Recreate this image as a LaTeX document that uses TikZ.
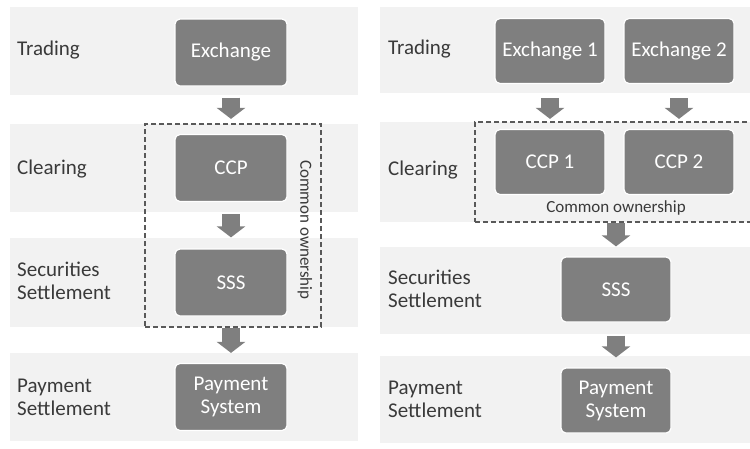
\documentclass[tikz,border=0pt]{standalone}
\usepackage{fontspec}
\setmainfont{Carlito}
\usetikzlibrary{arrows.meta}
\definecolor{bandgray}{HTML}{F2F2F2}
\definecolor{boxgray}{HTML}{7F7F7F}
\definecolor{labelgray}{HTML}{3A3A3A}
\definecolor{dashgray}{HTML}{595959}
\begin{document}
\begin{tikzpicture}[x=1pt, y=-1pt,
    entity/.style={rectangle, rounded corners=5pt, fill=boxgray, draw=white, line width=1.2pt,
        text=white, font=\fontsize{21}{23}\selectfont, align=center, inner sep=0pt},
    lbl/.style={anchor=west, text=labelgray, font=\fontsize{21}{23}\selectfont, align=left, inner sep=0pt},
    flow/.style={draw=boxgray, line width=18pt, -{Triangle[width=28pt,length=11pt]}},
    owner/.style={draw=dashgray, line width=1.6pt, dash pattern=on 5pt off 3pt, inner sep=0pt},
    ownertext/.style={text=labelgray, font=\fontsize{17}{18}\selectfont, inner sep=0pt}
    ]
    \useasboundingbox (0,0) rectangle (750,448);
    \def\lw{112}
    \def\lh{67}
    \def\rw{110}
    \def\rh{65}
    % bands
    \foreach \top/\bot in {7/95, 124/212, 238/327, 353/441}
        \fill[bandgray] (10,\top) rectangle (358,\bot);
    \foreach \top/\bot in {7/93, 122/222, 247/334, 356/443}
        \fill[bandgray] (380,\top) rectangle (750,\bot);
    % row labels
    \node[lbl] (trdL) at (17,50) {Trading};
    \node[lbl] (clrL) at (17,169) {Clearing};
    \node[lbl] (secL) at (17,281) {Securities\\Settlement};
    \node[lbl] (payL) at (17,397) {Payment\\Settlement};
    \node[lbl] (trdR) at (388,49) {Trading};
    \node[lbl] (clrR) at (388,170) {Clearing};
    \node[lbl] (secR) at (388,289) {Securities\\Settlement};
    \node[lbl] (payRl) at (388,399) {Payment\\Settlement};
    % common ownership
    \node[owner, minimum width=176, minimum height=203] (ownL) at (233,225.5) {};
    \node[ownertext, rotate=-90] (ownLt) at (305,230) {Common ownership};
    \node[owner, minimum width=290, minimum height=100] (ownR) at (620,172) {};
    \node[ownertext] (ownRt) at (616,208) {Common ownership};
    % left
    \node[entity, minimum width=\lw, minimum height=\lh] (exch) at (231,52.5) {Exchange};
    \node[entity, minimum width=\lw, minimum height=\lh] (ccp) at (231,168) {CCP};
    \node[entity, minimum width=\lw, minimum height=\lh] (sss) at (231,282.5) {SSS};
    \node[entity, minimum width=\lw, minimum height=\lh] (pay) at (231,397) {Payment\\System};
    \draw[flow, shorten <=11pt, shorten >=15pt] (exch.south) -- (ccp.north);
    \draw[flow, shorten <=12pt, shorten >=11pt] (ccp.south) -- (sss.north);
    \draw[flow, shorten <=11pt, shorten >=10pt] (sss.south) -- (pay.north);
    % right
    \node[entity, minimum width=\rw, minimum height=\rh] (exA) at (550,51) {Exchange 1};
    \node[entity, minimum width=\rw, minimum height=\rh] (exB) at (679,51) {Exchange 2};
    \node[entity, minimum width=\rw, minimum height=\rh] (ccpA) at (550,162) {CCP 1};
    \node[entity, minimum width=\rw, minimum height=\rh] (ccpB) at (679,162) {CCP 2};
    \node[entity, minimum width=\rw, minimum height=\rh] (sssR) at (616,289.5) {SSS};
    \node[entity, minimum width=\rw, minimum height=\rh] (payR) at (616,400.5) {Payment\\System};
    \draw[flow, shorten <=14pt, shorten >=10pt] (exA.south) -- (ccpA.north);
    \draw[flow, shorten <=14pt, shorten >=10pt] (exB.south) -- (ccpB.north);
    \draw[flow, shorten >=10pt] (ownR.south -| sssR) -- (sssR.north);
    \draw[flow, shorten <=13pt, shorten >=10pt] (sssR.south) -- (payR.north);
\end{tikzpicture}
\end{document}
